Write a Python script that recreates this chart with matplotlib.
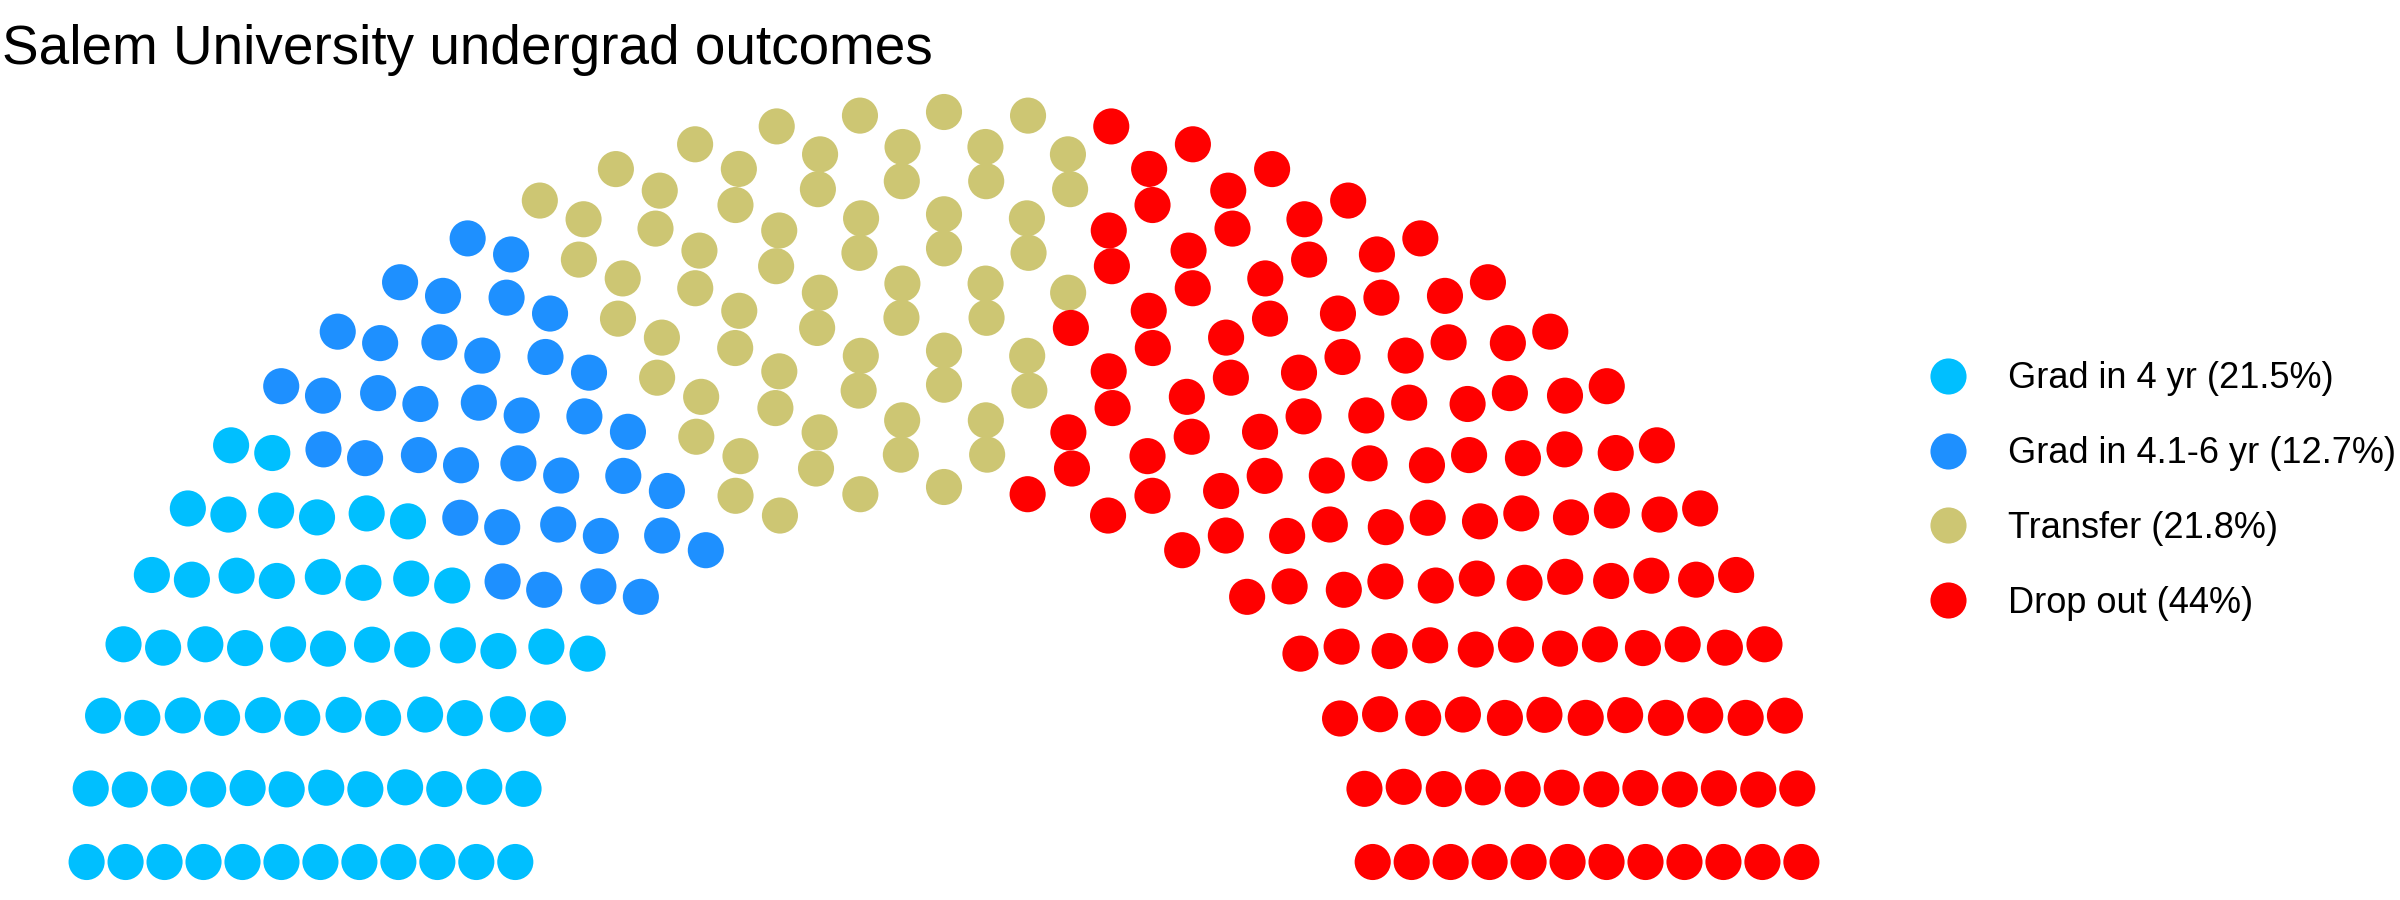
import matplotlib
matplotlib.use("Agg")
import matplotlib.pyplot as plt
from matplotlib.lines import Line2D
import numpy as np

plt.rcParams['font.family'] = ['Liberation Sans', 'DejaVu Sans']

# seats per outcome (out of 300 students in the parliament layout)
outcomes = ['Grad in 4 yr', 'Grad in 4.1-6 yr', 'Transfer', 'Drop out']
seats = [64, 38, 65, 133]
pct_labels = ['21.5%', '12.7%', '21.8%', '44%']
colors = ['#00BFFF', '#1E90FF', '#CDC673', '#FF0000']
n_rows = 12

# semicircle layout, same idea as ggparliament
radii = np.linspace(1, 2, n_rows)
total = sum(seats)
xs, ys, rows, thetas = [], [], [], []
for i, r in enumerate(radii):
    n = int(np.round(total * r / radii.sum()))
    th = np.linspace(0, np.pi, n)
    xs.append(r * np.cos(th))
    ys.append(r * np.sin(th))
    rows.append(np.full(n, i))
    thetas.append(th)
xs = np.concatenate(xs)
ys = np.concatenate(ys)
rows = np.concatenate(rows)
thetas = np.round(np.concatenate(thetas), 9)
order = np.lexsort((-rows, -thetas))
xs, ys = xs[order], ys[order]

seat_colors = np.repeat(colors, seats)[:len(xs)]

fig = plt.figure(figsize=(24, 9), dpi=100)
# axes placed so 1 unit = ~429 px wide, 375 px tall
ax = fig.add_axes([22.3 / 2400, 0.5 / 900, 1843.4 / 2400, 825 / 900])
ax.scatter(xs, ys, s=26 ** 2, c=seat_colors, linewidths=0)
ax.set_xlim(-2.15, 2.15)
ax.set_ylim(-0.1, 2.1)
ax.axis('off')

fig.text(0.001, 1 - 64 / 900, 'Salem University undergrad outcomes',
         fontsize=39.5, va='baseline', ha='left')

handles = [Line2D([], [], ls='none', marker='o', markersize=26,
                  markerfacecolor=c, markeredgewidth=0) for c in colors]
labels = [f'{o} ({p})' for o, p in zip(outcomes, pct_labels)]
fig.legend(handles, labels, loc='center left', bbox_to_anchor=(1930 / 2400, 1 - 491 / 900),
           frameon=False, fontsize=26, handlelength=1.0, handletextpad=1.16,
           labelspacing=1.1, borderpad=0, borderaxespad=0)

fig.savefig('out.png', dpi=100, facecolor='white')
